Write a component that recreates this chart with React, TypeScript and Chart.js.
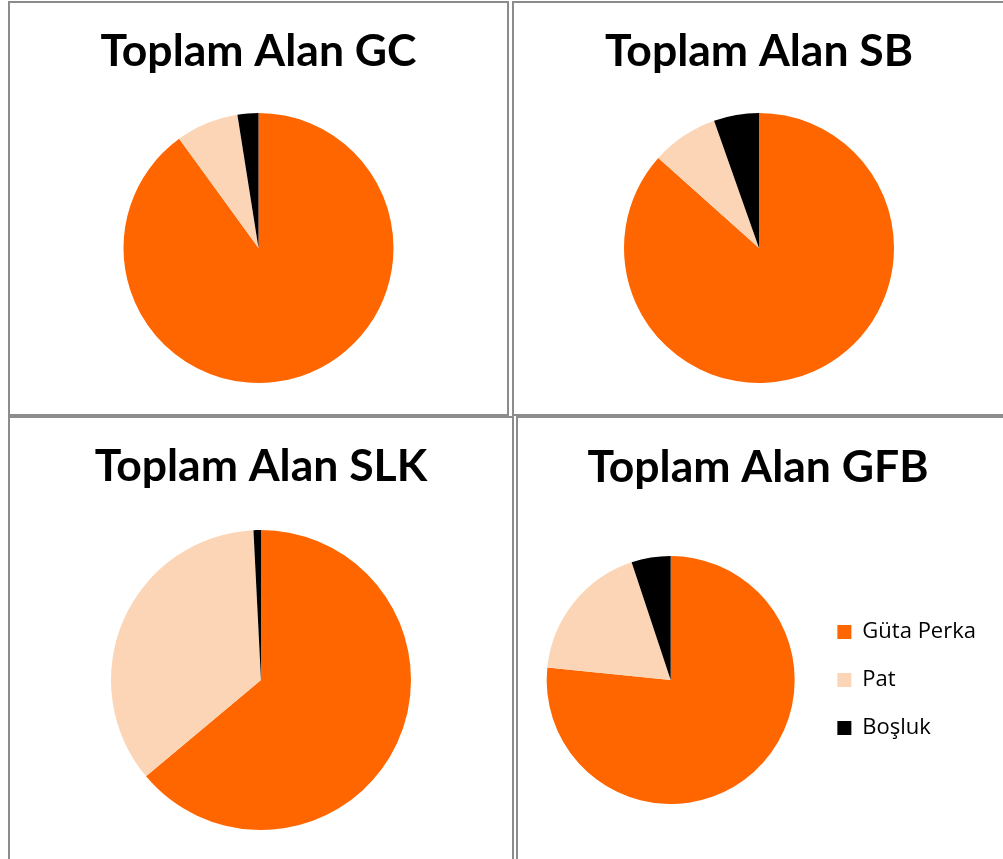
import React, { useEffect, useRef } from "react";
import Chart from "chart.js/auto";

const categories = ["Güta Perka", "Pat", "Boşluk"];
const gcValues = [90, 7.5, 2.5];
const sbValues = [86.6, 8, 5.4];
const slkValues = [63.9, 35.3, 0.8];
const gfbValues = [76.6, 18.3, 5.1];
const sliceColors = ["#FF6600", "#FBD5B5", "#000000"];

type PanelProps = {
  title: string;
  values: number[];
  box: { left: number; top: number; width: number; height: number };
  canvasW: number;
  canvasH: number;
  titlePadTop: number;
  titlePadBottom: number;
  layoutPad: { left: number; right: number; top: number; bottom: number };
  showLegend: boolean;
};

function PiePanel(p: PanelProps) {
  const ref = useRef<HTMLCanvasElement | null>(null);
  useEffect(() => {
    if (!ref.current) return;
    const chart = new Chart(ref.current, {
      type: "pie",
      data: {
        labels: categories,
        datasets: [
          {
            data: p.values,
            backgroundColor: sliceColors,
            borderWidth: 0,
          },
        ],
      },
      options: {
        responsive: false,
        animation: false,
        layout: { padding: p.layoutPad },
        plugins: {
          title: {
            display: true,
            text: p.title,
            color: "#000000",
            font: { family: "Lato", size: 44.5, weight: "bold", lineHeight: 1.2 },
            padding: { top: p.titlePadTop, bottom: p.titlePadBottom },
          },
          legend: {
            display: p.showLegend,
            position: "right",
            fullSize: false,
            labels: {
              color: "#000000",
              boxWidth: 14,
              boxHeight: 14,
              padding: 26,
              font: { family: "Open Sans", size: 22 },
            },
          },
          tooltip: { enabled: false },
        },
      },
    });
    return () => chart.destroy();
  }, []);
  return (
    <div
      style={{
        position: "absolute",
        left: p.box.left,
        top: p.box.top,
        width: p.box.width,
        height: p.box.height,
        border: "2px solid #8c8c8c",
        boxSizing: "border-box",
        background: "#ffffff",
      }}
    >
      <canvas
        ref={ref}
        width={p.canvasW}
        height={p.canvasH}
        style={{ display: "block", width: p.canvasW, height: p.canvasH }}
      />
    </div>
  );
}

export default function App() {
  return (
    <div
      style={{
        position: "absolute",
        left: 0,
        top: 0,
        width: 1003,
        height: 859,
        overflow: "hidden",
        background: "#ffffff",
      }}
    >
      <PiePanel
        title="Toplam Alan GC"
        values={gcValues}
        box={{ left: 8, top: 1, width: 501, height: 415 }}
        canvasW={497}
        canvasH={411}
        titlePadTop={21.5}
        titlePadBottom={35.1}
        layoutPad={{ left: 0, right: 0, top: 0, bottom: 31 }}
        showLegend={false}
      />
      <PiePanel
        title="Toplam Alan SB"
        values={sbValues}
        box={{ left: 512, top: 1, width: 520, height: 415 }}
        canvasW={490}
        canvasH={411}
        titlePadTop={21.5}
        titlePadBottom={35.1}
        layoutPad={{ left: 0, right: 0, top: 0, bottom: 31 }}
        showLegend={false}
      />
      <PiePanel
        title="Toplam Alan SLK"
        values={slkValues}
        box={{ left: 8, top: 416, width: 506, height: 500 }}
        canvasW={502}
        canvasH={441}
        titlePadTop={22.3}
        titlePadBottom={36.3}
        layoutPad={{ left: 0, right: 0, top: 0, bottom: 29 }}
        showLegend={false}
      />
      <PiePanel
        title="Toplam Alan GFB"
        values={gfbValues}
        box={{ left: 516, top: 416, width: 520, height: 500 }}
        canvasW={486}
        canvasH={441}
        titlePadTop={23}
        titlePadBottom={61.6}
        layoutPad={{ left: 12, right: 18, top: 0, bottom: 55 }}
        showLegend={true}
      />
    </div>
  );
}
